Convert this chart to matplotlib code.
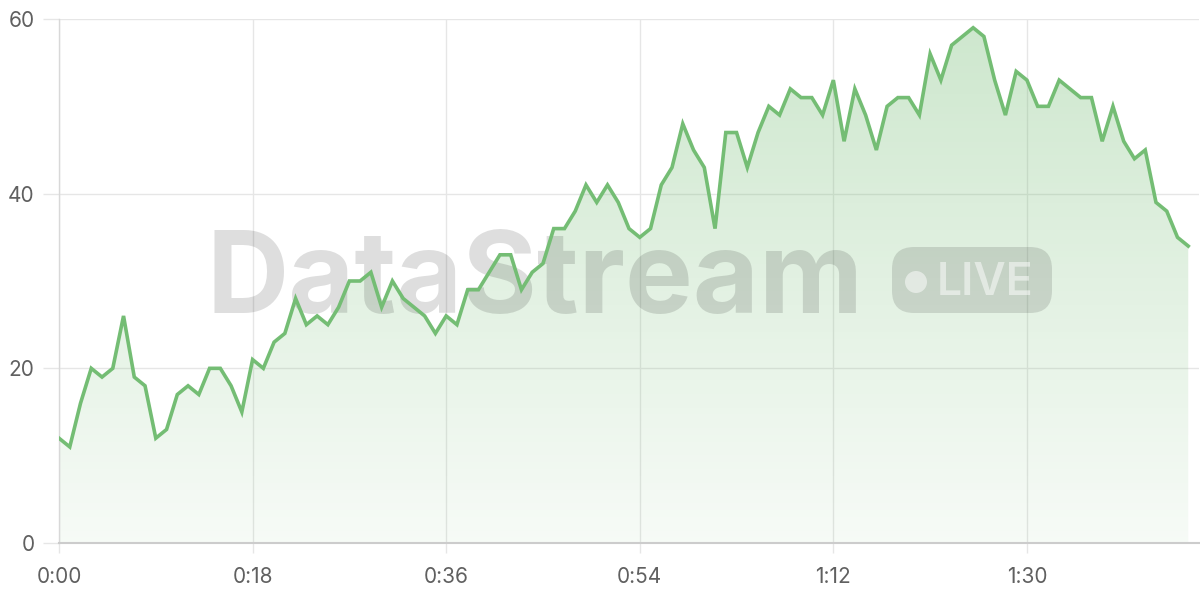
import numpy as np
import matplotlib
matplotlib.use("Agg")
import matplotlib.pyplot as plt
from matplotlib.patches import FancyBboxPatch, Circle, Polygon
from matplotlib.transforms import IdentityTransform
from matplotlib.colors import LinearSegmentedColormap

# ---- data (one sample per second) ----
values = [12, 11, 16, 20, 19, 20, 26, 19, 18, 12,
          13, 17, 18, 17, 20, 20, 18, 15, 21, 20,
          23, 24, 28, 25, 26, 25, 27, 30, 30, 31,
          27, 30, 28, 27, 26, 24, 26, 25, 29, 29,
          31, 33, 33, 29, 31, 32, 36, 36, 38, 41,
          39, 41, 39, 36, 35, 36, 41, 43, 48, 45,
          43, 36, 47, 47, 43, 47, 50, 49, 52, 51,
          51, 49, 53, 46, 52, 49, 45, 50, 51, 51,
          49, 56, 53, 57, 58, 59, 58, 53, 49, 54,
          53, 50, 50, 53, 52, 51, 51, 46, 50, 46,
          44, 45, 39, 38, 35, 34]
seconds = list(range(len(values)))

x_ticks = [0, 18, 36, 54, 72, 90]
x_labels = ["0:00", "0:18", "0:36", "0:54", "1:12", "1:30"]
y_ticks = [0, 20, 40, 60]
y_labels = ["0", "20", "40", "60"]

LINE = "#74bd74"
GRID = "#e6e6e6"
TEXT = "#606060"

plt.rcParams["font.family"] = ["Inter", "DejaVu Sans"]

fig = plt.figure(figsize=(12, 6), dpi=100)
ax = fig.add_axes([59 / 1200, 57 / 600, 1140 / 1200, 524 / 600])
ax.set_xlim(0, 106)
ax.set_ylim(0, 60)

# gradient fill under the line
x = np.array(seconds, dtype=float)
y = np.array(values, dtype=float)
verts = np.vstack([np.column_stack([x, y]), [[x[-1], 0], [x[0], 0]]])
poly = Polygon(verts, closed=True, facecolor="none", edgecolor="none")
ax.add_patch(poly)
cmap = LinearSegmentedColormap.from_list(
    "fade", [(0.455, 0.741, 0.455, 0.06), (0.455, 0.741, 0.455, 0.36)])
grad = np.linspace(0, 1, 256).reshape(-1, 1)
im = ax.imshow(grad, cmap=cmap, aspect="auto", origin="lower",
               extent=[0, 106, 0, 60], zorder=1)
im.set_clip_path(poly)

# watermark (pixel coordinates)
tr = IdentityTransform()
ax.text(207, 600 - 313, "DataStream", transform=tr, fontsize=82,
        fontweight="bold", color="black", alpha=0.13, ha="left",
        va="baseline", zorder=2)
pill = FancyBboxPatch((892, 600 - 313), 160, 66,
                      boxstyle="round,pad=0,rounding_size=22",
                      transform=tr, facecolor="black", alpha=0.12,
                      edgecolor="none", clip_on=False, zorder=2)
ax.add_patch(pill)
ax.add_patch(Circle((916, 600 - 282), 11, transform=tr, facecolor="white",
                    alpha=0.5, edgecolor="none", clip_on=False, zorder=2.1))
ax.text(937, 600 - 295, "LIVE", transform=tr, fontsize=32,
        fontweight="semibold", color="white", alpha=0.5, ha="left",
        va="baseline", zorder=2.1)

ax.plot(seconds, values, color=LINE, lw=2.6, solid_joinstyle="miter",
        zorder=3)

ax.set_xticks(x_ticks)
ax.set_xticklabels(x_labels)
ax.set_yticks(y_ticks)
ax.set_yticklabels(y_labels)
ax.grid(True, color=GRID, lw=1, zorder=0)
ax.set_axisbelow(True)
ax.tick_params(axis="y", length=11.5, width=1, color=GRID, pad=6,
               labelsize=15, labelcolor=TEXT)
ax.tick_params(axis="x", length=7.5, width=1, color=GRID, pad=10,
               labelsize=15, labelcolor=TEXT)
for s in ("top", "right"):
    ax.spines[s].set_visible(False)
ax.spines["left"].set_color("#d8d8d8")
ax.spines["left"].set_linewidth(1)
ax.spines["bottom"].set_color("#cccccc")
ax.spines["bottom"].set_linewidth(1.5)

fig.savefig("out.png", dpi=100)
